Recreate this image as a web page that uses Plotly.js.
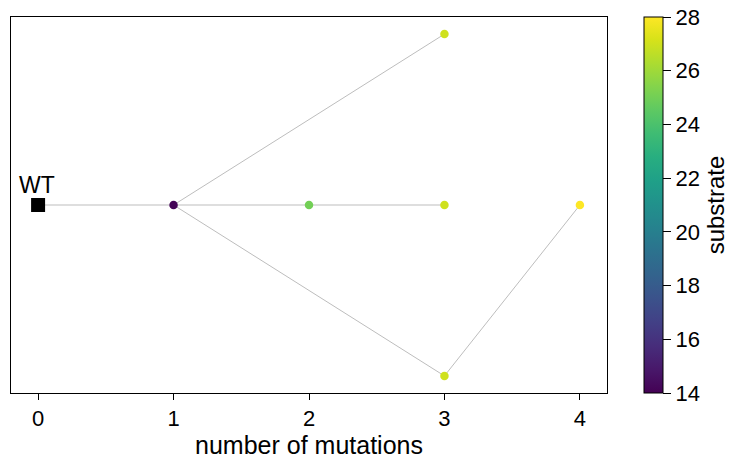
<!DOCTYPE html>
<html>
<head>
<meta charset="utf-8">
<script src="https://cdn.plot.ly/plotly-3.0.1.min.js"></script>
<style>html,body{margin:0;padding:0;background:#fff}</style>
</head>
<body>
<div id="chart" style="width:740px;height:465px"></div>
<script>
// Nodes (variants)
const nodeNames = ["WT", "m1", "m2", "m3a", "m3b", "m3c", "m4"];
const nodeMutations = [0, 1, 2, 3, 3, 3, 4];
const nodeLevel = [0, 0, 0, 1, 0, -1, 0];
const nodeSubstrate = [null, 14.1, 25.0, 27.0, 27.0, 27.0, 28.0];
// Edges as pairs of node indices
const edgeFrom = [0, 1, 2, 1, 1, 5];
const edgeTo   = [1, 2, 4, 3, 5, 6];
const xTickVals = [0, 1, 2, 3, 4];
const cbTicks = [14, 16, 18, 20, 22, 24, 26, 28];

const ex = [], ey = [];
for (let i = 0; i < edgeFrom.length; i++) {
  ex.push(nodeMutations[edgeFrom[i]], nodeMutations[edgeTo[i]], null);
  ey.push(nodeLevel[edgeFrom[i]], nodeLevel[edgeTo[i]], null);
}

const font = "Liberation Sans, Arial, sans-serif";
const mx = [], my = [], mc = [];
for (let i = 1; i < nodeNames.length; i++) {
  mx.push(nodeMutations[i]); my.push(nodeLevel[i]); mc.push(nodeSubstrate[i]);
}

const traces = [
  {x: ex, y: ey, mode: "lines", line: {color: "#bdbdbd", width: 1}, hoverinfo: "skip", showlegend: false},
  {x: [nodeMutations[0]], y: [nodeLevel[0]], mode: "markers", marker: {symbol: "square", size: 14, color: "black"}, showlegend: false},
  {x: mx, y: my, mode: "markers", showlegend: false,
   marker: {size: 8.5, color: mc, colorscale: "Viridis", cmin: 14, cmax: 28, showscale: true,
     colorbar: {thickness: 19, len: 376, lenmode: "pixels", x: 1.062, xanchor: "left", xpad: 0, ypad: 0,
       y: 0.5, yanchor: "middle", outlinewidth: 1, outlinecolor: "black",
       ticks: "outside", ticklen: 8, tickwidth: 1, tickcolor: "black",
       tickvals: cbTicks, ticktext: cbTicks.map(String),
       tickfont: {family: font, size: 22, color: "black"},
       title: {text: "substrate", side: "right", font: {family: font, size: 24, color: "black"}}}}}
];

const layout = {
  width: 740, height: 465,
  margin: {l: 11, r: 133, t: 17, b: 72},
  paper_bgcolor: "white", plot_bgcolor: "white",
  font: {family: font, color: "black"},
  xaxis: {range: [-0.2, 4.2], tickvals: xTickVals, ticks: "outside", ticklen: 6, tickcolor: "black",
    showgrid: false, zeroline: false, showline: true, mirror: true, linecolor: "black", linewidth: 1,
    tickfont: {family: font, size: 22, color: "black"},
    title: {text: "number of mutations", font: {family: font, size: 25, color: "black"}, standoff: 3}},
  yaxis: {range: [-1.1, 1.1], showticklabels: false, ticks: "", showgrid: false, zeroline: false,
    showline: true, mirror: true, linecolor: "black", linewidth: 1},
  annotations: [{x: nodeMutations[0], y: nodeLevel[0], text: nodeNames[0], showarrow: false,
    yanchor: "bottom", yshift: 5, xshift: -1, font: {family: font, size: 23, color: "black"}}]
};

Plotly.newPlot("chart", traces, layout, {displayModeBar: false, staticPlot: true});
</script>
</body>
</html>
